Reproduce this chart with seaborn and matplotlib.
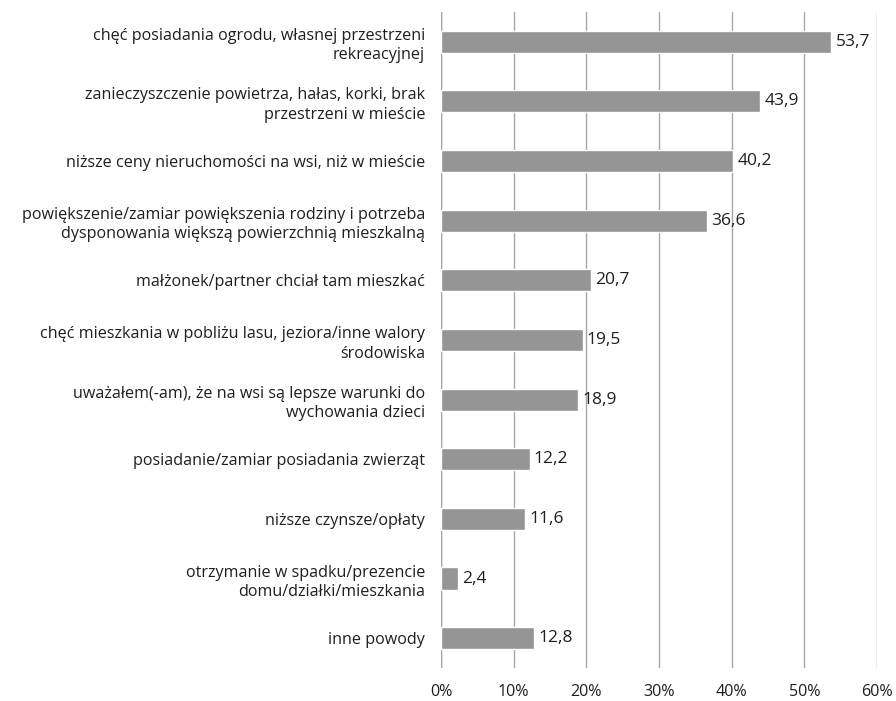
import matplotlib
matplotlib.use("Agg")
import matplotlib.pyplot as plt
import seaborn as sns
import pandas as pd

# powody przeprowadzki na wies (% wskazan)
reasons = [
    "chęć posiadania ogrodu, własnej przestrzeni\nrekreacyjnej",
    "zanieczyszczenie powietrza, hałas, korki, brak\nprzestrzeni w mieście",
    "niższe ceny nieruchomości na wsi, niż w mieście",
    "powiększenie/zamiar powiększenia rodziny i potrzeba\ndysponowania większą powierzchnią mieszkalną",
    "małżonek/partner chciał tam mieszkać",
    "chęć mieszkania w pobliżu lasu, jeziora/inne walory\nśrodowiska",
    "uważałem(-am), że na wsi są lepsze warunki do\nwychowania dzieci",
    "posiadanie/zamiar posiadania zwierząt",
    "niższe czynsze/opłaty",
    "otrzymanie w spadku/prezencie\ndomu/działki/mieszkania",
    "inne powody",
]
values = [53.7, 43.9, 40.2, 36.6, 20.7, 19.5, 18.9, 12.2, 11.6, 2.4, 12.8]
xticks = [0, 10, 20, 30, 40, 50, 60]

df = pd.DataFrame({"powod": reasons, "proc": values})

sns.set_theme(style="white")
plt.rcParams["font.family"] = ["Open Sans", "DejaVu Sans"]

fig = plt.figure(figsize=(8.96, 7.01), dpi=100)
ax = fig.add_axes([0.4922, 0.0471, 0.4866, 0.9358])

sns.barplot(data=df, x="proc", y="powod", color="#959595", saturation=1,
            width=0.37, ax=ax)

ax.set_xlim(0, 60)
ax.set_ylim(10.5, -0.5)
ax.set_xticks(xticks)
ax.set_xticklabels([f"{t}%" for t in xticks])
ax.grid(axis="x", color="#a6a6a6", linewidth=1)
ax.set_axisbelow(True)
for s in ax.spines.values():
    s.set_visible(False)
ax.axvline(0, color="#a6a6a6", linewidth=1, zorder=0)

ax.set_xlabel("")
ax.set_ylabel("")
ax.tick_params(axis="y", length=0, pad=11.5, labelsize=11.6, labelcolor="#1f1f1f")
ax.tick_params(axis="x", length=0, pad=11.5, labelsize=11.6, labelcolor="#1f1f1f")
for lbl in ax.get_yticklabels():
    lbl.set_horizontalalignment("right")
    lbl.set_multialignment("right")
    lbl.set_linespacing(1.3)

texts = ax.bar_label(ax.containers[0],
                     labels=[f"{v:.1f}".replace(".", ",") for v in values],
                     padding=3, fontsize=12.5, color="#1f1f1f")
for t in texts:
    t.set_verticalalignment("center")

fig.savefig("out.png", dpi=100)
